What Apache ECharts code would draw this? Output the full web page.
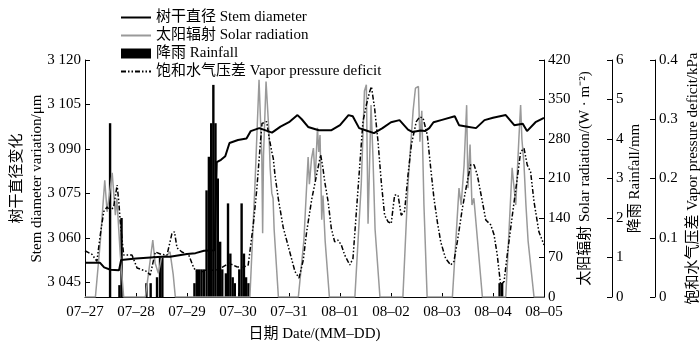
<!DOCTYPE html>
<html>
<head>
<meta charset="utf-8">
<script src="https://cdn.jsdelivr.net/npm/echarts@6/dist/echarts.min.js"></script>
<style>
  html, body { margin: 0; padding: 0; background: #fff; }
  #chart { width: 700px; height: 342px; }
</style>
</head>
<body>
<div id="chart"></div>
<script>
// x values are hours since 07-27 00:00
const dateLabels = ["07–27", "07–28", "07–29", "07–30", "07–31", "08–01", "08–02", "08–03", "08–04", "08–05"];
const stemTicks = [3045, 3060, 3075, 3090, 3105, 3120];

// stem diameter, [hour, μm]
const stemData = [
  [0, 3051.6], [7, 3051.6], [9, 3050], [12, 3049.2], [16, 3049], [17, 3052.5], [24, 3053],
  [36, 3053.6], [40, 3053.6], [48, 3054.5], [52, 3054.8], [56, 3055.6], [61, 3055.8],
  [62, 3085.5], [64, 3086.3], [66, 3087.5], [68, 3092], [72, 3093], [76, 3093.5], [78, 3096],
  [82, 3097], [88, 3095.5], [92, 3097.5], [96, 3099], [100, 3101.4], [102, 3100], [105, 3097.4],
  [110, 3096.3], [116, 3096.3], [120, 3098], [124, 3101.4], [126, 3101], [129, 3097], [132, 3096.3],
  [136, 3095.3], [140, 3097], [144, 3099], [148, 3099.7], [152, 3096.5], [154, 3095.7], [158, 3096.2],
  [160, 3096], [162, 3097], [164, 3099], [168, 3099.8], [174, 3101], [176, 3098], [180, 3097.5],
  [184, 3097], [188, 3099.7], [192, 3100.5], [198, 3101.4], [202, 3098], [206, 3098.5], [208, 3096],
  [212, 3099], [216, 3100.5]
];

// solar radiation, [hour, W/m2]
const solarData = [
  [0, 0], [4.9, 0], [7.2, 98], [9.3, 207], [10.4, 151], [12.8, 220], [14.3, 145], [15, 175], [16.6, 75], [18.2, 0],
  [28.4, 0], [30, 45], [31.9, 101], [33, 60], [34.5, 42], [36, 70], [38.6, 74], [40, 80], [41.5, 40], [42.5, 0],
  [77.6, 0], [80, 200], [81.9, 385], [83.2, 250], [83.6, 113], [84, 250], [85.2, 382], [86.6, 290], [87.1, 230],
  [87.9, 184], [88.5, 175], [89, 120], [91, 0],
  [100.4, 0], [103, 100], [105, 248], [105.6, 200], [106.6, 245], [107.5, 264], [108.3, 207], [109.4, 300],
  [110, 257], [110.6, 287], [111.4, 137], [112, 180], [113, 100], [115, 0],
  [127, 0], [130, 200], [131.5, 365], [132.4, 376], [133.2, 130], [134, 250], [134.6, 340], [135.5, 250],
  [136.5, 120], [138.8, 0],
  [149.6, 0], [152, 200], [154.4, 330], [155.5, 370], [156.9, 373], [157.6, 275], [158.5, 330], [159.5, 163], [161, 0],
  [172.9, 0], [176, 193], [177, 163], [178.4, 234], [179.6, 340], [180.2, 193], [181.2, 270], [182.1, 163],
  [183, 175], [187, 0],
  [198, 0], [201, 229], [202.7, 163], [204.2, 282], [205, 340], [205.6, 280], [206.6, 234], [207.5, 163],
  [208.5, 100], [211.3, 0], [216, 0]
];

// rainfall, [hour, mm]
const rainData = [
  [11.8, 4.4], [16.2, 0.3], [17.2, 2.0],
  [28.9, 0.35], [30.9, 0.35], [33.9, 0.5], [35.3, 1.0], [36.4, 1.0],
  [51.5, 0.35], [52.6, 0.7], [53.7, 0.7], [54.8, 0.7], [55.9, 0.7], [57.2, 2.7], [58.3, 3.55], [59.4, 4.4],
  [60.4, 5.37], [61.4, 4.4], [62.5, 3.0], [63.6, 1.4], [64.6, 0.7],
  [66.3, 0.6], [67.3, 2.37], [68.4, 1.1], [69.5, 0.5], [70.5, 0.35],
  [72.6, 0.7], [73.7, 2.37], [74.8, 1.1], [75.8, 0.5], [76.9, 0.35],
  [195.1, 0.35], [196.3, 0.35]
];

// vapor pressure deficit, [hour, kPa]
const vpdData = [
  [0, 0.078], [3.3, 0.072], [5.6, 0.06], [7.2, 0.105], [8.8, 0.144], [10.4, 0.152], [11.8, 0.145], [13.5, 0.152],
  [15.1, 0.189], [15.9, 0.161], [16.6, 0.127], [18.2, 0.071], [22.1, 0.071], [24.5, 0.049], [29.2, 0.043],
  [30.7, 0.037], [33.1, 0.076], [35.8, 0.072], [38.6, 0.071], [40.9, 0.107], [42.1, 0.11], [43.3, 0.083],
  [45.6, 0.076], [48.8, 0.071], [51.2, 0.049], [53.2, 0.04], [56.5, 0.045], [61.2, 0.045], [64.5, 0.05],
  [67.8, 0.057], [71.4, 0.051], [74.4, 0.05], [76.8, 0.054], [79.2, 0.122], [80.8, 0.18], [82.4, 0.254],
  [83.3, 0.293], [85.5, 0.296], [86.6, 0.27], [87.9, 0.245], [88.6, 0.234], [89.4, 0.206], [91, 0.165],
  [93.3, 0.117], [95.7, 0.085], [98.8, 0.043], [100.7, 0.032], [102.7, 0.062], [104.3, 0.11], [106.7, 0.165],
  [109.6, 0.217], [110.9, 0.24], [112, 0.217], [112.8, 0.195], [114.4, 0.161], [115.9, 0.116], [117.5, 0.093],
  [119.1, 0.096], [120.6, 0.088], [122.2, 0.071], [124.6, 0.054], [126.1, 0.065], [128.5, 0.183], [130.8, 0.296],
  [132.4, 0.324], [134, 0.347], [134.8, 0.355], [136.3, 0.318], [137.9, 0.262], [139.4, 0.195], [141, 0.138],
  [142.6, 0.127], [144.1, 0.124], [145.7, 0.172], [147.3, 0.172], [148.8, 0.138], [150.4, 0.145], [152, 0.206],
  [153.6, 0.257], [155.9, 0.296], [157.5, 0.304], [159.1, 0.302], [161.1, 0.273], [162.7, 0.217], [164.2, 0.167],
  [165.8, 0.127], [167.4, 0.093], [169.7, 0.065], [172.1, 0.054], [173.6, 0.06], [175.2, 0.093], [177.6, 0.15],
  [179.9, 0.195], [181.5, 0.223], [183.1, 0.223], [184.6, 0.206], [187, 0.161], [188.6, 0.13], [190.9, 0.122],
  [192.5, 0.105], [194, 0.071], [195.6, 0.02], [197.2, 0.026], [198.7, 0.071], [201.1, 0.138], [203.4, 0.2],
  [205, 0.245], [206.6, 0.251], [208.1, 0.223], [209.7, 0.211], [211.3, 0.161], [213.6, 0.11], [216, 0.088]
];

const FONT = '"Liberation Serif", "Noto Sans CJK SC", serif';
const txt = { color: "#000", fontFamily: FONT, fontSize: 15 };

const axisBase = {
  axisLine: { show: true, lineStyle: { color: "#000", width: 1 } },
  axisTick: { show: true, inside: true, length: 5, lineStyle: { color: "#000" } },
  axisLabel: Object.assign({ margin: 4 }, txt),
  splitLine: { show: false },
  nameLocation: "middle",
  nameRotate: 90,
  nameMoveOverlap: false,
  nameTextStyle: Object.assign({ lineHeight: 20 }, txt),
};

const noSymbol = { opacity: 0 };

const myChart = echarts.init(document.getElementById("chart"));
const option = {
  animation: false,
  grid: { left: 85, right: 156, top: 60, bottom: 45, containLabel: false, outerBoundsMode: "none" },
  legend: {
    orient: "vertical",
    left: 115,
    top: 5,
    itemGap: 3,
    itemWidth: 30,
    itemHeight: 10,
    textStyle: txt,
    data: [
      { name: "树干直径 Stem diameter", itemStyle: noSymbol },
      { name: "太阳辐射 Solar radiation", itemStyle: noSymbol },
      { name: "降雨 Rainfall", icon: "rect" },
      { name: "饱和水气压差 Vapor pressure deficit", itemStyle: noSymbol },
    ],
  },
  xAxis: {
    type: "value",
    min: 0,
    max: 216,
    interval: 24,
    axisLine: { lineStyle: { color: "#000" } },
    axisTick: { inside: true, length: 4, lineStyle: { color: "#000" } },
    axisLabel: Object.assign({ margin: 8, formatter: (v) => dateLabels[v / 24] }, txt),
    splitLine: { show: false },
    name: "日期 Date/(MM–DD)",
    nameLocation: "middle",
    nameGap: 30,
    nameTextStyle: txt,
  },
  yAxis: [
    Object.assign({}, axisBase, {
      type: "value",
      position: "left",
      min: 3040,
      max: 3120,
      axisTick: Object.assign({}, axisBase.axisTick, { customValues: stemTicks }),
      axisLabel: Object.assign({}, axisBase.axisLabel, {
        customValues: stemTicks,
        formatter: (v) => String(v).replace(/(\d)(\d{3})$/, "$1 $2"),
      }),
      name: "树干直径变化\nStem diameter variation/μm",
      nameGap: 38,
    }),
    Object.assign({}, axisBase, {
      type: "value",
      position: "right",
      min: 0,
      max: 420,
      interval: 70,
      name: "太阳辐射 Solar radiation/(W · m⁻²)",
      nameGap: 31,
    }),
    Object.assign({}, axisBase, {
      type: "value",
      position: "right",
      offset: 68,
      min: 0,
      max: 6,
      interval: 1,
      name: "降雨 Rainfall/mm",
      nameGap: 13,
    }),
    Object.assign({}, axisBase, {
      type: "value",
      position: "right",
      offset: 111,
      min: 0,
      max: 0.4,
      interval: 0.1,
      name: "饱和水气压差 Vapor pressure deficit/kPa",
      nameGap: 28,
    }),
  ],
  series: [
    {
      name: "降雨 Rainfall",
      type: "bar",
      yAxisIndex: 2,
      barWidth: 2.4,
      itemStyle: { color: "#000" },
      data: rainData,
    },
    {
      name: "太阳辐射 Solar radiation",
      type: "line",
      yAxisIndex: 1,
      symbol: "none",
      lineStyle: { color: "#999", width: 1.5 },
      itemStyle: { color: "#999" },
      data: solarData,
    },
    {
      name: "饱和水气压差 Vapor pressure deficit",
      type: "line",
      yAxisIndex: 3,
      symbol: "none",
      lineStyle: { color: "#000", width: 1.5, type: [5, 2, 1.5, 2, 1.5, 2] },
      itemStyle: { color: "#000" },
      data: vpdData,
    },
    {
      name: "树干直径 Stem diameter",
      type: "line",
      yAxisIndex: 0,
      symbol: "none",
      lineStyle: { color: "#000", width: 2 },
      itemStyle: { color: "#000" },
      data: stemData,
    },
  ],
};
myChart.setOption(option);
</script>
</body>
</html>
